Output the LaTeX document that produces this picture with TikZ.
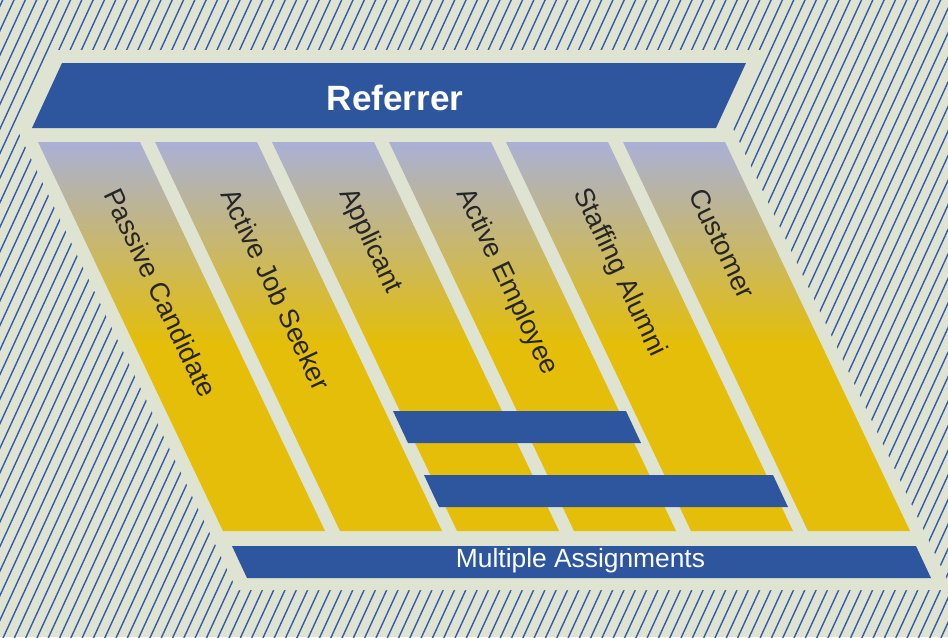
\documentclass[tikz,border=0pt]{standalone}
\usepackage{fontspec}
\setmainfont{Liberation Sans}
\usepackage{xcolor}

\definecolor{barblue}{RGB}{46,86,158}
\definecolor{hatchblue}{RGB}{52,92,170}
\definecolor{paper}{RGB}{223,227,209}
\definecolor{colgold}{RGB}{228,190,8}
\definecolor{collav}{RGB}{170,176,214}
\pgfdeclareverticalshading{colfade}{100bp}{color(0bp)=(colgold); color(49bp)=(colgold); color(75bp)=(collav); color(100bp)=(collav)}

\begin{document}
\begin{tikzpicture}[x=0.2mm,y=-0.2mm,
  band/.style={fill=barblue},
  hatchline/.style={draw=hatchblue,line width=0.8pt},
  collabel/.style={anchor=west,inner sep=0pt,rotate=-64.6,text=black!85,font=\fontsize{15.5}{18}\selectfont}]
\useasboundingbox (0,0) rectangle (948,637);
% hatched ground
\fill[paper] (0,0) rectangle (948,637);
\begin{scope}
\clip (0,0) rectangle (948,637);
\foreach \k in {-28,...,84}
  \draw[hatchline] (2.1+11.3*\k,640) -- ++(299,-650);
\end{scope}
\fill[paper] (54,50) -- (766,50) -- (731.5,125.4) -- (952,590) -- (237,590) -- (17,129) -- cycle;
% six slanted columns
\foreach \c [count=\k] in {Passive Candidate,Active Job Seeker,Applicant,Active Employee,Staffing Alumni,Customer}{
  \pgfmathsetmacro\xl{38+117*(\k-1)}
  \shade[shading=colfade] (\xl,142) -- ++(102,0) -- ++(185,389) -- ++(-102,0) -- cycle;
  \node[collabel] (col\k) at (\xl+73.8,190) {\c};
}
% bars
\fill[band] (62,63) -- (746,63) -- (716,128) -- (32,128) -- cycle;
\node[anchor=base,text=white,font=\fontsize{20}{24}\selectfont\bfseries] (referrer) at (395,110) {Referrer};
\fill[band] (393,411) -- (626,411) -- (641,443) -- (408,443) -- cycle;
\fill[band] (424,475) -- (773,475) -- (788,507) -- (439,507) -- cycle;
\fill[band] (232,546) -- (916,546) -- (931,578) -- (247,578) -- cycle;
\node[anchor=base,text=white,font=\fontsize{15}{18}\selectfont] (multi) at (580.5,567) {Multiple Assignments};
\end{tikzpicture}
\end{document}
